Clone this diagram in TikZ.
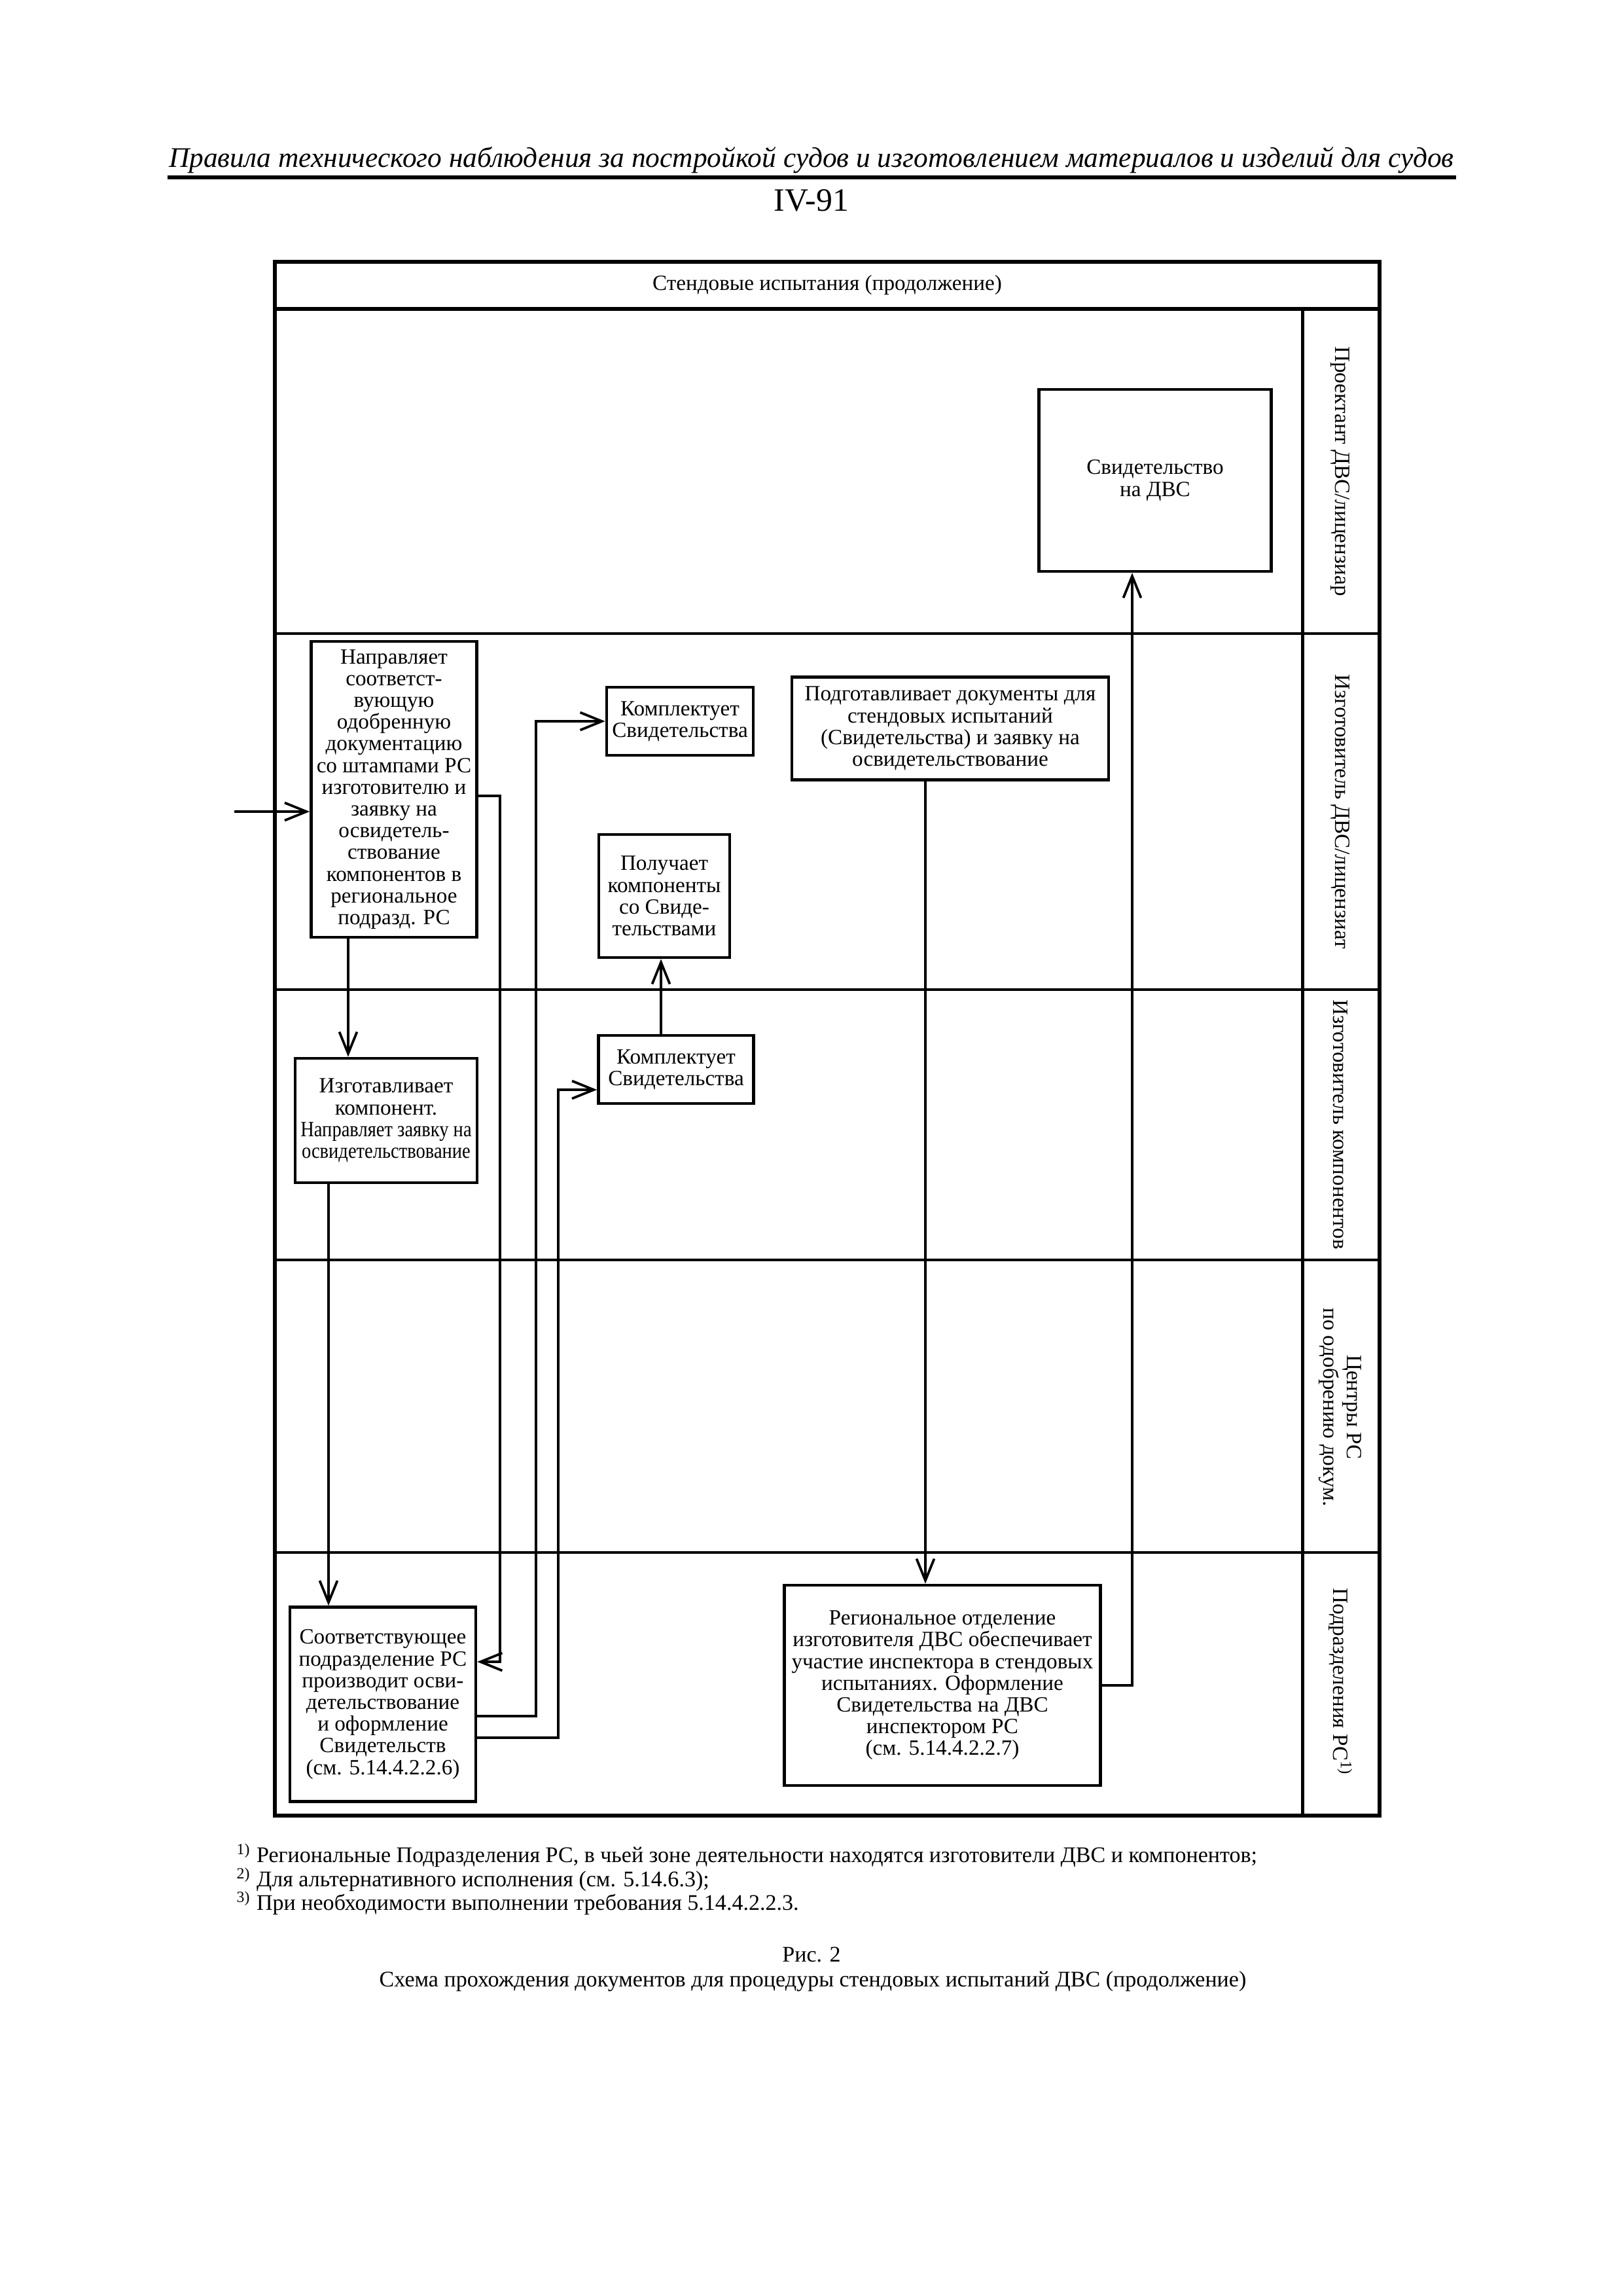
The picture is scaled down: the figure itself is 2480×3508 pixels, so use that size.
\documentclass[tikz,border=0pt]{standalone}
\usepackage{fontspec}
\setmainfont{Liberation Serif}
\usetikzlibrary{positioning,arrows.meta}
\newdimen\pxu \pxu=0.08467mm
\newcommand\boxfont{\fontsize{8}{8}\selectfont}
\newcommand\notefont{\fontsize{8.2}{10}\selectfont}

\begin{document}
\begin{tikzpicture}[x=0.08467mm, y=-0.08467mm,
    box/.style={draw, line width=1.1pt, align=center, inner sep=2pt, font=\boxfont},
    arr/.style={line width=0.9pt, -{Straight Barb[length=8pt,width=6.5pt]}},
    lane/.style={line width=0.8pt},
    lanelbl/.style={rotate=-90, align=center, font=\fontsize{8}{8.8}\selectfont}]
    \useasboundingbox (0,0) rectangle (2480,3508);
    % page head
    \node[anchor=base, font=\fontsize{10.45}{13}\selectfont\itshape] (title) at (1240,255)
      {Правила технического наблюдения за постройкой судов и изготовлением материалов и изделий для судов};
    \draw[line width=1.5pt] (256,271) -- (2225,271);
    \node[anchor=base, font=\fontsize{12}{14}\selectfont] (pageno) at (1240,322) {IV-91};
    % swimlane frame
    \draw[line width=1.3pt] (420,400) rectangle (2108,2774);
    \draw[line width=1.3pt] (420,472) -- (2108,472);
    \draw[line width=1.2pt] (1990,472) -- (1990,2774);
    \foreach \ly in {968,1512,1925,2372}
      \draw[lane] (420,\ly) -- (2108,\ly);
    \node[font=\boxfont] (hdr) at (1264,436) {Стендовые испытания (продолжение)};
    \node[lanelbl] (lane1) at (2048,720) {Проектант ДВС/лицензиар};
    \node[lanelbl] (lane2) at (2048,1240) {Изготовитель ДВС/лицензиат};
    \node[lanelbl] (lane3) at (2048,1718) {Изготовитель компонентов};
    \node[lanelbl] (lane4) at (2048,2150) {Центры РС\\по одобрению докум.};
    \node[lanelbl] (lane5) at (2048,2570) {Подразделения РС\textsuperscript{1)}};
    % boxes
    \node[box, minimum width=355\pxu, minimum height=278\pxu] (svid) at (1765,734)
      {Свидетельство\\на ДВС};
    \node[box, minimum width=249\pxu, minimum height=452\pxu] (napr) at (602,1206)
      {Направляет\\соответст-\\вующую\\одобренную\\документацию\\со штампами РС\\изготовителю и\\заявку на\\освидетель-\\ствование\\компонентов в\\региональное\\подразд. РС};
    \node[box, minimum width=224\pxu, minimum height=104\pxu] (kompl1) at (1039,1102)
      {Комплектует\\Свидетельства};
    \node[box, minimum width=484\pxu, minimum height=157\pxu] (podg) at (1452,1113)
      {Подготавливает документы для\\стендовых испытаний\\(Свидетельства) и заявку на\\освидетельствование};
    \node[box, minimum width=200\pxu, minimum height=188\pxu] (poluch) at (1015,1369)
      {Получает\\компоненты\\со Свиде-\\тельствами};
    \node[box, minimum width=273\pxu, minimum height=190\pxu] (izgot) at (590,1712)
      {Изготавливает\\компонент.\\\scalebox{0.86}[1]{Направляет заявку на}\\\scalebox{0.86}[1]{освидетельствование}};
    \node[box, minimum width=237\pxu, minimum height=104\pxu] (kompl2) at (1033,1634)
      {Комплектует\\Свидетельства};
    \node[box, minimum width=284\pxu, minimum height=297\pxu] (sootv) at (585,2604)
      {Соответствующее\\подразделение РС\\производит осви-\\детельствование\\и оформление\\Свидетельств\\(см. 5.14.4.2.2.6)};
    \node[box, minimum width=483\pxu, minimum height=306\pxu] (region) at (1440,2575)
      {Региональное отделение\\изготовителя ДВС обеспечивает\\участие инспектора в стендовых\\испытаниях. Оформление\\Свидетельства на ДВС\\инспектором РС\\(см. 5.14.4.2.2.7)};
    % connectors
    \coordinate (inpt) at (358,1240);
    \draw[arr] (inpt) -- (inpt -| napr.west);
    \draw[arr] ([xshift=-70\pxu]napr.south) -- ([xshift=-70\pxu]napr.south |- izgot.north);
    \draw[arr] ([yshift=-10\pxu]napr.east) -| ([xshift=35\pxu,yshift=65\pxu]sootv.east)
      -- ([yshift=65\pxu]sootv.east);
    \draw[arr] ([xshift=-88\pxu]izgot.south) -- ([xshift=-88\pxu]izgot.south |- sootv.north);
    \draw[arr] ([yshift=-18\pxu]sootv.east) -| ([xshift=-106\pxu]kompl1.west) -- (kompl1.west);
    \draw[arr] ([yshift=-51\pxu]sootv.east) -| ([xshift=-59\pxu,yshift=-31\pxu]kompl2.west)
      -- ([yshift=-31\pxu]kompl2.west);
    \draw[arr] ([xshift=-23\pxu]kompl2.north) -- ([xshift=-23\pxu]kompl2.north |- poluch.south);
    \draw[arr] ([xshift=-38\pxu]podg.south) -- ([xshift=-38\pxu]podg.south |- region.north);
    \draw[arr] (region.east) -| ([xshift=-35\pxu]svid.south);
    % notes and caption
    \node[anchor=base west, font=\notefont] (fn1) at (347,2845)
      {\textsuperscript{1)} Региональные Подразделения РС, в чьей зоне деятельности находятся изготовители ДВС и компонентов;};
    \node[anchor=base west, font=\notefont] (fn2) at (347,2882)
      {\textsuperscript{2)} Для альтернативного исполнения (см. 5.14.6.3);};
    \node[anchor=base west, font=\notefont] (fn3) at (347,2918)
      {\textsuperscript{3)} При необходимости выполнении требования 5.14.4.2.2.3.};
    \node[anchor=base, font=\notefont] (fig) at (1240,2997) {Рис. 2};
    \node[anchor=base, font=\notefont] (cap) at (1242,3035)
      {Схема прохождения документов для процедуры стендовых испытаний ДВС (продолжение)};
\end{tikzpicture}
\end{document}
